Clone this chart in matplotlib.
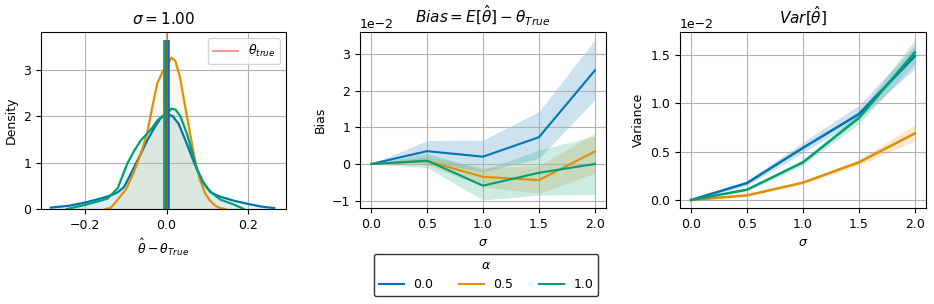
import matplotlib.pyplot as plt
import numpy as np

plt.rcParams['font.size'] = 9

blue, orange, green = '#0173b2', '#de8f05', '#029e73'
alphas = ['0.0', '0.5', '1.0']
colors = [blue, orange, green]

# left panel: density of theta_hat - theta_true at sigma = 1.00
kde_x_blue = [-0.285, -0.24, -0.2, -0.16, -0.138, -0.12, -0.105, -0.09, -0.072, -0.06, -0.048,
              -0.03, -0.015, 0.0, 0.015, 0.03, 0.05, 0.07, 0.09, 0.108, 0.13, 0.165, 0.2, 0.235, 0.265]
kde_y_blue = [0.03, 0.07, 0.14, 0.23, 0.29, 0.36, 0.47, 0.72, 1.04, 1.25, 1.47,
              1.75, 1.95, 2.05, 2.0, 1.83, 1.4, 0.95, 0.58, 0.36, 0.27, 0.18, 0.11, 0.05, 0.02]
kde_x_orange = [-0.15, -0.138, -0.123, -0.1, -0.082, -0.065, -0.048, -0.035, -0.023, -0.01, 0.0,
                0.012, 0.022, 0.033, 0.045, 0.058, 0.07, 0.083, 0.095, 0.107, 0.12, 0.132, 0.145]
kde_y_orange = [0.0, 0.02, 0.17, 0.42, 0.76, 1.15, 1.62, 2.2, 2.7, 2.95, 3.06,
                3.26, 3.18, 2.84, 2.25, 1.62, 1.05, 0.61, 0.34, 0.18, 0.07, 0.02, 0.0]
kde_x_green = [-0.245, -0.195, -0.146, -0.12, -0.097, -0.08, -0.064, -0.048, -0.035, -0.023, -0.01,
               0.0, 0.012, 0.022, 0.034, 0.051, 0.063, 0.075, 0.088, 0.1, 0.115, 0.133, 0.165, 0.19]
kde_y_green = [0.0, 0.1, 0.22, 0.45, 0.97, 1.25, 1.47, 1.62, 1.75, 1.9, 2.0,
               2.05, 2.16, 2.14, 2.0, 1.6, 1.22, 0.85, 0.6, 0.45, 0.32, 0.2, 0.1, 0.0]
mean_est = [0.003, -0.002, -0.005]
bar_top = 3.63

# bias and variance against sigma (in units of 1e-2)
sigma = [0.0, 0.5, 1.0, 1.5, 2.0]
bias = [[0, 0.35, 0.2, 0.73, 2.55],
        [0, 0.08, -0.35, -0.44, 0.34],
        [0, 0.09, -0.59, -0.24, 0.0]]
bias_lo = [[0, 0.05, -0.21, 0.15, 1.75],
           [0, -0.02, -0.62, -0.8, -0.25],
           [0, -0.1, -0.98, -0.85, -0.83]]
bias_hi = [[0, 0.64, 0.65, 1.43, 3.38],
           [0, 0.2, -0.1, -0.05, 0.84],
           [0, 0.29, -0.16, 0.38, 0.76]]
var = [[0, 0.176, 0.54, 0.89, 1.49],
       [0, 0.048, 0.18, 0.39, 0.69],
       [0, 0.107, 0.39, 0.85, 1.53]]
var_lo = [[0, 0.15, 0.49, 0.84, 1.36],
          [0, 0.04, 0.165, 0.36, 0.61],
          [0, 0.095, 0.36, 0.79, 1.41]]
var_hi = [[0, 0.2, 0.6, 0.98, 1.6],
          [0, 0.056, 0.195, 0.42, 0.78],
          [0, 0.12, 0.42, 0.9, 1.66]]

fig = plt.figure(figsize=(9.34, 3.04), dpi=100)
W, H = 934, 304
ax1 = fig.add_axes([41 / W, 95 / H, 245 / W, 177 / H])
ax2 = fig.add_axes([360 / W, 96 / H, 246 / W, 176 / H])
ax3 = fig.add_axes([680 / W, 96 / H, 246 / W, 176 / H])

curves = [(kde_x_blue, kde_y_blue), (kde_x_orange, kde_y_orange), (kde_x_green, kde_y_green)]
for (cx, cy), c in zip(curves, colors):
    ax1.fill_between(cx, 0, cy, color=c, alpha=0.07, lw=0)
for (cx, cy), c in zip(curves, colors):
    ax1.plot(cx, cy, color=c, lw=1.6)
for m, c in zip(mean_est, colors):
    ax1.vlines(m, 0, bar_top, color=c, lw=2.6)
ax1.axvline(0, color='red', alpha=0.5, lw=1.2, label=r'$\theta_{true}$')
ax1.set_xlim(-0.309, 0.294)
ax1.set_ylim(0, 3.81)
ax1.set_xticks([-0.2, 0.0, 0.2])
ax1.set_title(r'$\sigma = 1.00$', fontsize=11)
ax1.set_xlabel(r'$\hat{\theta} - \theta_{True}$')
ax1.set_ylabel('Density')
ax1.legend(loc='upper right')
ax1.grid(True)

for i in range(3):
    ax2.plot(sigma, np.array(bias[i]) / 100, color=colors[i], lw=1.5, label=alphas[i])
    ax2.fill_between(sigma, np.array(bias_lo[i]) / 100, np.array(bias_hi[i]) / 100,
                     color=colors[i], alpha=0.2, lw=0)
    ax3.plot(sigma, np.array(var[i]) / 100, color=colors[i], lw=1.8, label=alphas[i])
    ax3.fill_between(sigma, np.array(var_lo[i]) / 100, np.array(var_hi[i]) / 100,
                     color=colors[i], alpha=0.2, lw=0)

ax2.set_ylim(-0.012, 0.036)
ax2.set_title(r'$Bias = E[\hat{\theta}] - \theta_{True}$', fontsize=11)
ax2.set_ylabel('Bias')
ax3.set_ylim(-0.00083, 0.0174)
ax3.set_title(r'$Var[\hat{\theta}]$', fontsize=11)
ax3.set_ylabel('Variance')
for ax in (ax2, ax3):
    ax.set_xticks(sigma)
    ax.set_xlabel(r'$\sigma$')
    ax.ticklabel_format(axis='y', style='sci', scilimits=(0, 0))
    ax.grid(True)

h, l = ax2.get_legend_handles_labels()
leg = fig.legend(h, l, title=r'$\alpha$', ncol=3, loc='center',
                 bbox_to_anchor=(486 / W, 1 - 275 / H), handlelength=2,
                 columnspacing=2.0, fancybox=True, edgecolor='black')
leg.get_frame().set_linewidth(1.0)

fig.savefig('out.png', dpi=100)
